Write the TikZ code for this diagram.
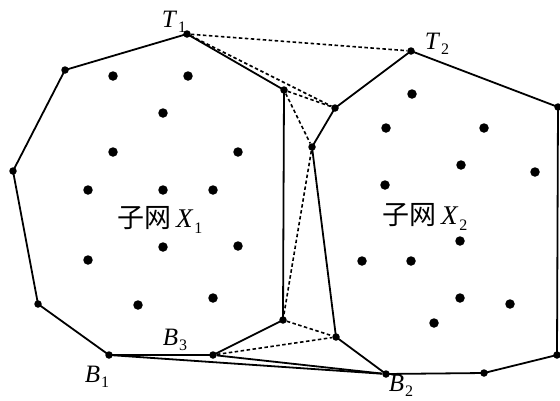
\documentclass[tikz,border=0pt]{standalone}
\usepackage{fontspec}
\setmainfont{Liberation Serif}
\newfontfamily\cjk{Noto Sans CJK SC}
\newcommand{\sublab}[2]{\textit{#1}\raisebox{-0.45ex}{\fontsize{16}{16}\selectfont\kern1pt #2}}
\begin{document}
\begin{tikzpicture}[x=1pt,y=-1pt,
  vtx/.style={circle,fill=black,inner sep=0pt,minimum size=7.5pt},
  dotn/.style={circle,fill=black,inner sep=0pt,minimum size=9.5pt},
  hull/.style={line width=1.8pt},
  dline/.style={line width=1.6pt,dash pattern=on 3.5pt off 2.5pt},
  lab/.style={inner sep=0pt,font=\fontsize{25}{25}\selectfont},
  cjklab/.style={inner sep=0pt,font=\fontsize{27}{27}\selectfont}]
\useasboundingbox (0,0) rectangle (560,400);
% hull vertices X1
\node[vtx] (T1) at (187,34) {};
\node[vtx] (a1) at (65,70) {};
\node[vtx] (a2) at (13,171) {};
\node[vtx] (a3) at (38,304) {};
\node[vtx] (B1) at (109,355) {};
\node[vtx] (B3) at (213,355) {};
\node[vtx] (a4) at (283,320) {};
\node[vtx] (a5) at (284,90) {};
% hull vertices X2
\node[vtx] (T2) at (411,51) {};
\node[vtx] (b1) at (558,107) {};
\node[vtx] (b2) at (557,355) {};
\node[vtx] (b3) at (484,373) {};
\node[vtx] (B2) at (386,374) {};
\node[vtx] (b4) at (336,337) {};
\node[vtx] (b5) at (312,147) {};
\node[vtx] (b6) at (335,108) {};
% interior points X1
\foreach \x/\y [count=\i] in {113/76,188/76,163/113,113/152,238/152,88/190,163/190,213/190,163/247,238/246,88/260,138/305,213/298}
  \node[dotn] (p\i) at (\x,\y) {};
% interior points X2
\foreach \x/\y [count=\i] in {412/94,386/128,484/128,461/165,535/172,385/185,460/241,362/261,411/261,460/298,510/304,434/323}
  \node[dotn] (q\i) at (\x,\y) {};
% hulls
\draw[hull] (T1.center) -- (a5.center) -- (a4.center) -- (B3.center) -- (B1.center) -- (a3.center) -- (a2.center) -- (a1.center) -- cycle;
\draw[hull] (T2.center) -- (b1.center) -- (b2.center) -- (b3.center) -- (B2.center) -- (b4.center) -- (b5.center) -- (b6.center) -- cycle;
\draw[hull] (B1) -- (B2);
\draw[hull] (B3) -- (B2);
% dashed links
\draw[dline] (T1) -- (T2);
\draw[dline] (T1) -- (b6);
\draw[dline] (a5) -- (b6);
\draw[dline] (a5) -- (b5);
\draw[dline] (b5) -- (a4);
\draw[dline] (a4) -- (b4);
\draw[dline] (B3) -- (b4);
% labels
\node[lab] (lT1) at (174,22) {\sublab{T}{1}};
\node[lab] (lT2) at (437,44) {\sublab{T}{2}};
\node[lab] (lB3) at (175,340) {\sublab{B}{3}};
\node[lab] (lB1) at (97,377) {\sublab{B}{1}};
\node[lab] (lB2) at (401,386) {\sublab{B}{2}};
\node[cjklab] (n1) at (160,220) {{\cjk 子网}\,\sublab{X}{1}};
\node[cjklab] (n2) at (425,217) {{\cjk 子网}\,\sublab{X}{2}};
\end{tikzpicture}
\end{document}
